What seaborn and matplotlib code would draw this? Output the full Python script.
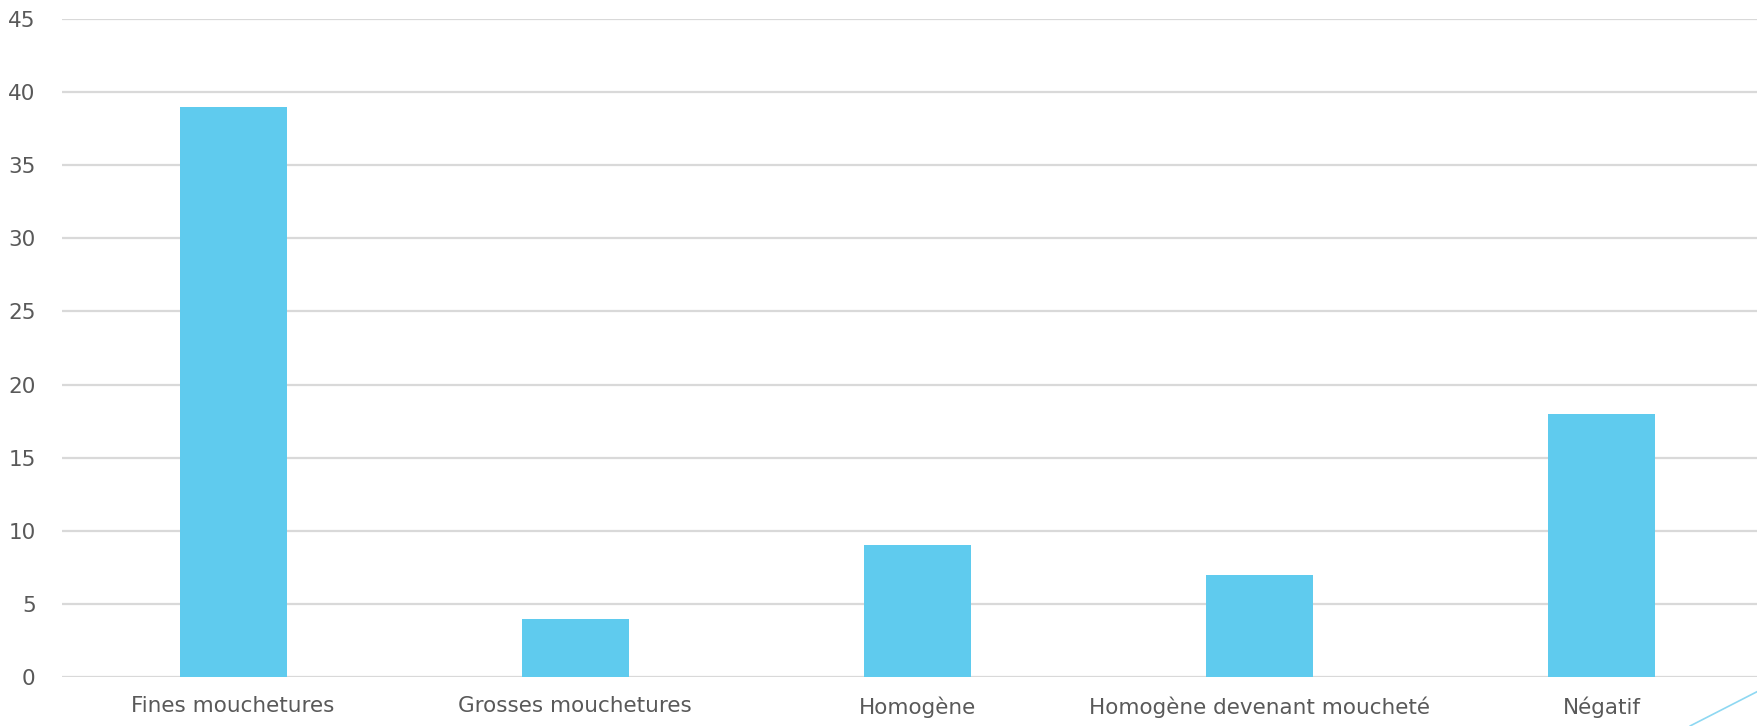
import matplotlib
matplotlib.use("Agg")
import matplotlib.pyplot as plt
from matplotlib.lines import Line2D
import seaborn as sns
import pandas as pd

categories = ["Fines mouchetures", "Grosses mouchetures", "Homogène",
              "Homogène devenant moucheté", "Négatif"]
counts = [39, 4, 9, 7, 18]
y_ticks = [0, 5, 10, 15, 20, 25, 30, 35, 40, 45]

BAR = "#5FCBEE"
GRID = "#D9D9D9"
TEXT = "#595959"

sns.set_theme(style="white")
plt.rcParams["font.family"] = ["DejaVu Sans"]

df = pd.DataFrame({"cat": categories, "n": counts})

fig = plt.figure(figsize=(17.57, 7.26), dpi=100)
ax = fig.add_axes([62 / 1757, 49 / 726, 1711 / 1757, 658 / 726])

sns.barplot(data=df, x="cat", y="n", color=BAR, saturation=1, width=0.313,
            linewidth=0, edgecolor="none", ax=ax)

ax.set_ylim(0, 45)
ax.set_yticks(y_ticks)
ax.set_xlim(-0.5, len(categories) - 0.5)
ax.yaxis.grid(True, color=GRID, linewidth=1.6)
ax.set_axisbelow(True)
for s in ax.spines.values():
    s.set_visible(False)
ax.set_xlabel("")
ax.set_ylabel("")
ax.tick_params(axis="both", length=0, colors=TEXT, labelsize=15.5)
ax.tick_params(axis="y", pad=19)
ax.tick_params(axis="x", pad=14)

# decorative diagonal stroke in the lower-right corner
fig.add_artist(Line2D([1690 / 1757, 1.02], [0, 0.072], transform=fig.transFigure,
                      color="#8ED8F2", linewidth=1.2, clip_on=False))

fig.savefig("out.png", dpi=100)
